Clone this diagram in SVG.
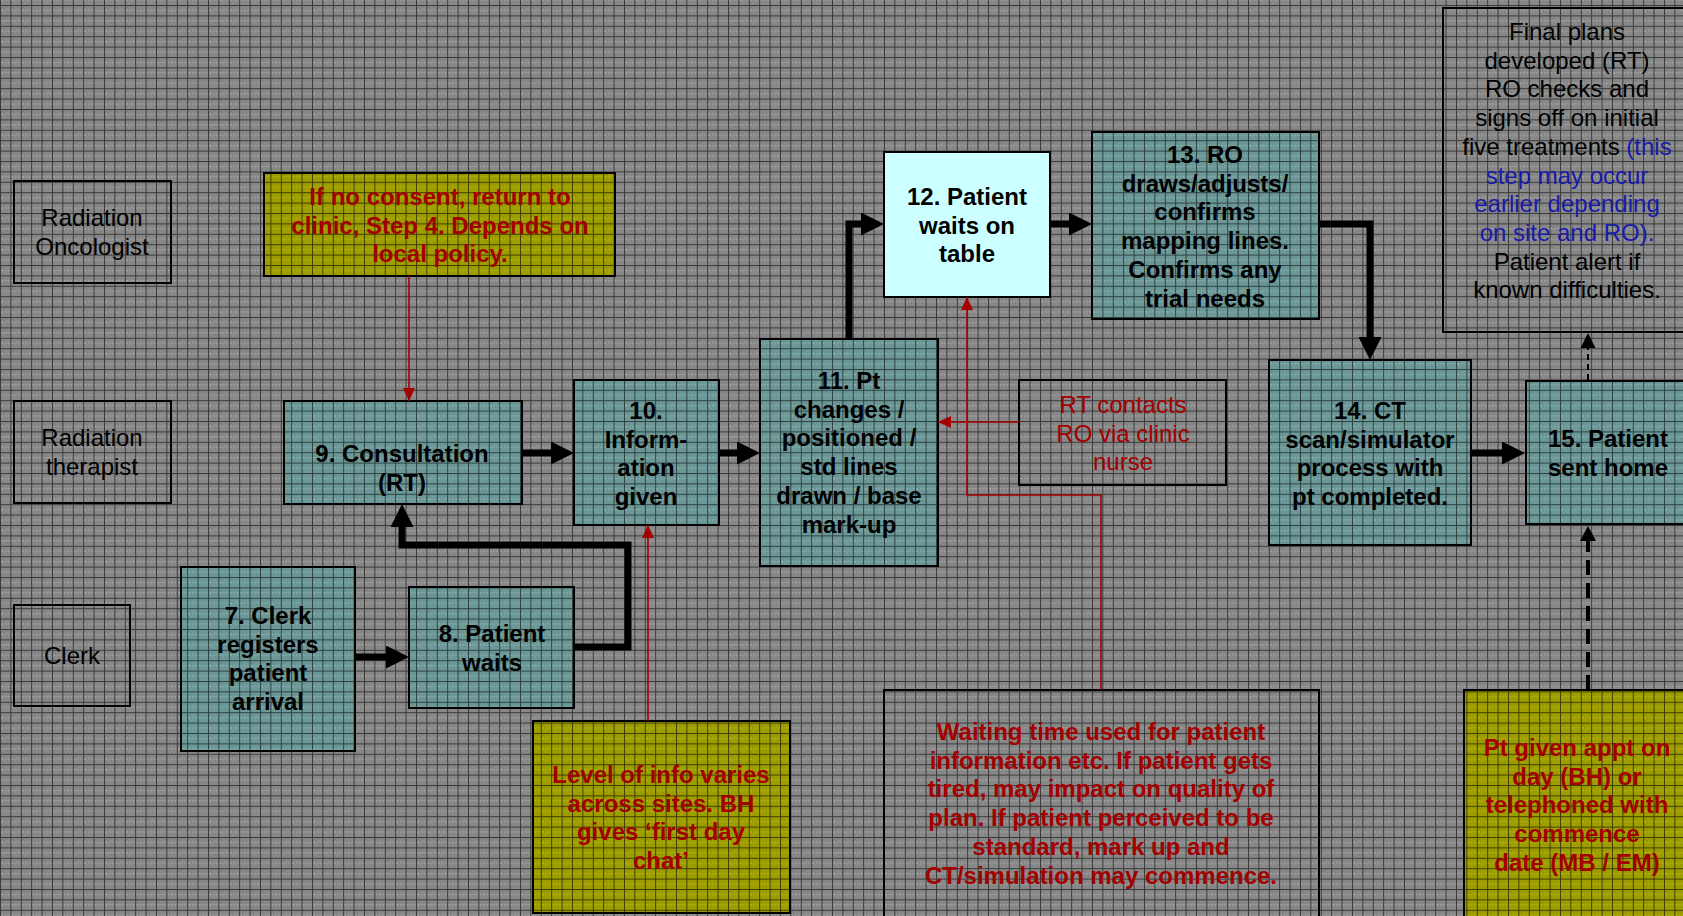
<svg xmlns="http://www.w3.org/2000/svg" width="1683" height="916" viewBox="0 0 1683 916">
<style>
text{font-family:"Liberation Sans",Arial,sans-serif;font-size:24px;text-anchor:middle}
.b{font-weight:bold}
.k{fill:#000}
.r{fill:#a30000}
.bl{fill:#1a1aa8}
.box{stroke:#000;stroke-width:2}
.teal{fill:url(#tealPat)}
.yel{fill:url(#yelPat)}
.none{fill:none}
.thick{fill:none;stroke:#000;stroke-width:7}
.red{fill:none;stroke:#a30000;stroke-width:1.6}
</style>
<defs>
<pattern id="bgPat" patternUnits="userSpaceOnUse" x="0" y="5" width="10.4" height="10.4">
<rect width="10.4" height="10.4" fill="#888888"/>
<rect x="3" y="3" width="1" height="1" fill="#737373"/>
<rect x="7" y="7" width="1" height="1" fill="#737373"/>
<rect x="1.5" y="5" width="1" height="1" fill="#e0e0e0"/>
<rect x="5" y="5" width="1" height="1" fill="#c2c2c2"/>
<rect x="8" y="5" width="1" height="1" fill="#c2c2c2"/>
<rect x="0" y="0" width="10.4" height="1" fill="#3a3a3a"/>
<rect x="0" y="0" width="1" height="10.4" fill="#3a3a3a"/>
</pattern>
<pattern id="tealPat" patternUnits="userSpaceOnUse" x="0" y="5" width="10.4" height="10.4">
<rect width="10.4" height="10.4" fill="#6c9898"/>
<rect x="3" y="3" width="1" height="1" fill="#5a8282"/>
<rect x="7" y="7" width="1" height="1" fill="#5a8282"/>
<rect x="1.5" y="5" width="1" height="1" fill="#d0e8e8"/>
<rect x="5" y="5" width="1" height="1" fill="#a8c4c4"/>
<rect x="8" y="5" width="1" height="1" fill="#a8c4c4"/>
<rect x="0" y="0" width="10.4" height="1" fill="#2e4242"/>
<rect x="0" y="0" width="1" height="10.4" fill="#2e4242"/>
</pattern>
<pattern id="yelPat" patternUnits="userSpaceOnUse" x="0" y="5" width="10.4" height="10.4">
<rect width="10.4" height="10.4" fill="#9e9e00"/>
<rect x="3" y="3" width="1" height="1" fill="#888800"/>
<rect x="7" y="7" width="1" height="1" fill="#888800"/>
<rect x="1.5" y="5" width="1" height="1" fill="#e6e640"/>
<rect x="5" y="5" width="1" height="1" fill="#c4c420"/>
<rect x="8" y="5" width="1" height="1" fill="#c4c420"/>
<rect x="0" y="0" width="10.4" height="1" fill="#3e3e00"/>
<rect x="0" y="0" width="1" height="10.4" fill="#3e3e00"/>
</pattern>
<marker id="ab" markerUnits="userSpaceOnUse" viewBox="0 0 23 23" markerWidth="23" markerHeight="23" refX="1" refY="11.5" orient="auto">
<path d="M0,0 L23,11.5 L0,23 Z" fill="#000"/>
</marker>
<marker id="ar" markerUnits="userSpaceOnUse" viewBox="0 0 13 12" markerWidth="13" markerHeight="12" refX="13" refY="6" orient="auto">
<path d="M0,0 L13,6 L0,12 Z" fill="#a30000"/>
</marker>
<marker id="ad1" markerUnits="userSpaceOnUse" viewBox="0 0 15 15" markerWidth="15" markerHeight="15" refX="1" refY="7.5" orient="auto">
<path d="M0,0 L15,7.5 L0,15 Z" fill="#000"/>
</marker>
<marker id="ad2" markerUnits="userSpaceOnUse" viewBox="0 0 15 16" markerWidth="15" markerHeight="16" refX="1" refY="8" orient="auto">
<path d="M0,0 L15,8 L0,16 Z" fill="#000"/>
</marker>
</defs>

<rect id="background" x="0" y="0" width="1683" height="916" fill="url(#bgPat)"/>

<g id="lane-ro">
<rect class="box none" x="14" y="181" width="157" height="102"/>
<text class="k" x="92" y="226">Radiation<tspan x="92" dy="29">Oncologist</tspan></text>
</g>
<g id="lane-rt">
<rect class="box none" x="14" y="401" width="157" height="102"/>
<text class="k" x="92" y="446">Radiation<tspan x="92" dy="29">therapist</tspan></text>
</g>
<g id="lane-clerk">
<rect class="box none" x="14" y="605" width="116" height="101"/>
<text class="k" x="72" y="664">Clerk</text>
</g>

<g id="note-consent">
<rect class="box yel" x="264" y="173" width="351" height="103"/>
<text class="b r" x="440" y="205">If no consent, return to<tspan x="440" dy="28.7">clinic, Step 4. Depends on</tspan><tspan x="440" dy="28.7">local policy.</tspan></text>
</g>

<g id="node7">
<rect class="box teal" x="181" y="567" width="174" height="184"/>
<text class="b k" x="268" y="624">7. Clerk<tspan x="268" dy="28.7">registers</tspan><tspan x="268" dy="28.7">patient</tspan><tspan x="268" dy="28.7">arrival</tspan></text>
</g>
<g id="node8">
<rect class="box teal" x="409" y="587" width="165" height="121"/>
<text class="b k" x="492" y="642">8. Patient<tspan x="492" dy="28.7">waits</tspan></text>
</g>
<g id="node9">
<rect class="box teal" x="284" y="401" width="238" height="103"/>
<text class="b k" x="402" y="462">9. Consultation<tspan x="402" dy="28.7">(RT)</tspan></text>
</g>
<g id="node10">
<rect class="box teal" x="574" y="380" width="145" height="145"/>
<text class="b k" x="646" y="419">10.<tspan x="646" dy="28.7">Inform-</tspan><tspan x="646" dy="28.7">ation</tspan><tspan x="646" dy="28.7">given</tspan></text>
</g>
<g id="node11">
<rect class="box teal" x="760" y="339" width="178" height="227"/>
<text class="b k" x="849" y="389">11. Pt<tspan x="849" dy="28.7">changes /</tspan><tspan x="849" dy="28.7">positioned /</tspan><tspan x="849" dy="28.7">std lines</tspan><tspan x="849" dy="28.7">drawn / base</tspan><tspan x="849" dy="28.7">mark-up</tspan></text>
</g>
<g id="node12">
<rect class="box" x="884" y="152" width="166" height="145" fill="#ccffff"/>
<text class="b k" x="967" y="205">12. Patient<tspan x="967" dy="28.7">waits on</tspan><tspan x="967" dy="28.7">table</tspan></text>
</g>
<g id="node13">
<rect class="box teal" x="1092" y="132" width="227" height="187"/>
<text class="b k" x="1205" y="163">13. RO<tspan x="1205" dy="28.7">draws/adjusts/</tspan><tspan x="1205" dy="28.7">confirms</tspan><tspan x="1205" dy="28.7">mapping lines.</tspan><tspan x="1205" dy="28.7">Confirms any</tspan><tspan x="1205" dy="28.7">trial needs</tspan></text>
</g>
<g id="node14">
<rect class="box teal" x="1269" y="360" width="202" height="185"/>
<text class="b k" x="1370" y="419">14. CT<tspan x="1370" dy="28.7">scan/simulator</tspan><tspan x="1370" dy="28.7">process with</tspan><tspan x="1370" dy="28.7">pt completed.</tspan></text>
</g>
<g id="node15">
<rect class="box teal" x="1526" y="381" width="170" height="143"/>
<text class="b k" x="1608" y="447">15. Patient<tspan x="1608" dy="28.7">sent home</tspan></text>
</g>
<g id="final-plans">
<rect class="box none" x="1443" y="8" width="250" height="324"/>
<text class="k" x="1567" y="40">Final plans<tspan x="1567" dy="28.7">developed (RT)</tspan><tspan x="1567" dy="28.7">RO checks and</tspan><tspan x="1567" dy="28.7">signs off on initial</tspan><tspan x="1567" dy="28.7">five treatments <tspan class="bl">(this</tspan></tspan><tspan class="bl" x="1567" dy="28.7">step may occur</tspan><tspan class="bl" x="1567" dy="28.7">earlier depending</tspan><tspan class="bl" x="1567" dy="28.7">on site and RO).</tspan><tspan x="1567" dy="28.7">Patient alert if</tspan><tspan x="1567" dy="28.7">known difficulties.</tspan></text>
</g>
<g id="note-rt-contacts">
<rect class="box none" x="1019" y="380" width="207" height="105"/>
<text class="r" x="1123" y="413">RT contacts<tspan x="1123" dy="28.7">RO via clinic</tspan><tspan x="1123" dy="28.7">nurse</tspan></text>
</g>
<g id="note-info">
<rect class="box yel" x="533" y="721" width="257" height="192"/>
<text class="b r" x="661" y="783">Level of info varies<tspan x="661" dy="28.7">across sites. BH</tspan><tspan x="661" dy="28.7">gives ‘first day</tspan><tspan x="661" dy="28.7">chat’</tspan></text>
</g>
<g id="note-waiting">
<rect class="box none" x="884" y="690" width="435" height="240"/>
<text class="b r" x="1101" y="740">Waiting time used for patient<tspan x="1101" dy="28.7">information etc. If patient gets</tspan><tspan x="1101" dy="28.7">tired, may impact on quality of</tspan><tspan x="1101" dy="28.7">plan. If patient perceived to be</tspan><tspan x="1101" dy="28.7">standard, mark up and</tspan><tspan x="1101" dy="28.7">CT/simulation may commence.</tspan></text>
</g>
<g id="note-appt">
<rect class="box yel" x="1464" y="690" width="230" height="240"/>
<text class="b r" x="1577" y="756">Pt given appt on<tspan x="1577" dy="28.7">day (BH) or</tspan><tspan x="1577" dy="28.7">telephoned with</tspan><tspan x="1577" dy="28.7">commence</tspan><tspan x="1577" dy="28.7">date (MB / EM)</tspan></text>
</g>

<g id="connectors">
<path class="thick" d="M355,657 H387" marker-end="url(#ab)"/>
<path class="thick" d="M574,647 H628 V545 H402 V526" marker-end="url(#ab)"/>
<path class="thick" d="M522,453 H552" marker-end="url(#ab)"/>
<path class="thick" d="M719,453 H738" marker-end="url(#ab)"/>
<path class="thick" d="M849,339 V224 H862" marker-end="url(#ab)"/>
<path class="thick" d="M1050,224 H1070" marker-end="url(#ab)"/>
<path class="thick" d="M1319,224 H1370 V338" marker-end="url(#ab)"/>
<path class="thick" d="M1471,453 H1503" marker-end="url(#ab)"/>
<path fill="none" stroke="#000" stroke-width="2" stroke-dasharray="6,4" d="M1588,380 V347" marker-end="url(#ad1)"/>
<path fill="none" stroke="#000" stroke-width="4" stroke-dasharray="15,8" d="M1588,690 V540" marker-end="url(#ad2)"/>
<path class="red" d="M409,276 V401" marker-end="url(#ar)"/>
<path class="red" d="M648,721 V525" marker-end="url(#ar)"/>
<path class="red" d="M1019,422 H938" marker-end="url(#ar)"/>
<path class="red" d="M1101,690 V495 H967 V297" marker-end="url(#ar)"/>
</g>
</svg>
